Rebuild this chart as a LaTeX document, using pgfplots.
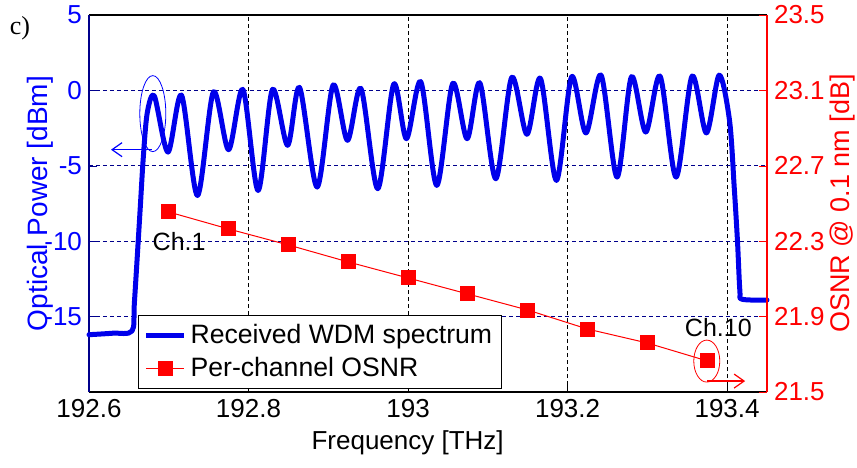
\documentclass[border=0pt]{standalone}
\usepackage{pgfplots}
\pgfplotsset{compat=1.18}
\usepackage{fontspec}
\setmainfont{Liberation Sans}
\newfontfamily\serifc{Liberation Serif}
\usetikzlibrary{arrows.meta}
\definecolor{specblue}{RGB}{0,0,235}
\definecolor{navy}{RGB}{0,0,140}

\pgfplotsset{
  common/.style={
    width=339pt, height=188.5pt, scale only axis,
    xmin=192.6, xmax=193.45,
    xtick={192.6,192.8,193,193.2,193.4},
    scaled x ticks=false,
    /pgf/number format/assume math mode=true,
    tick label style={font=\fontsize{13}{15}\selectfont},
    major tick length=4pt,
    tick align=inside,
    clip=false,
  }
}

\begin{document}
\begin{tikzpicture}
\begin{axis}[common, name=ax,
  ymin=-20, ymax=5, ytick={-15,-10,-5,0,5},
  axis x line*=box, axis y line*=left,
  xtick pos=left,
  xticklabels={192.6,192.8,193,193.2,193.4},
  y axis line style={draw=navy, line width=0.8pt},
  x axis line style={line width=0.8pt},
  ytick style={navy}, yticklabel style={blue},
  xtick style={black},
  grid=major,
  x grid style={black, dash pattern=on 2pt off 1.5pt, line width=0.5pt},
  y grid style={navy, dash pattern=on 2pt off 1.5pt, line width=0.5pt},
  xlabel={Frequency [THz]},
  ylabel={Optical Power [dBm]},
  xlabel style={at={(axis description cs:0.47,-0.135)}, anchor=center, font=\fontsize{13}{15}\selectfont},
  ylabel style={at={(axis description cs:-0.0723,0.5)}, anchor=center, blue, font=\fontsize{14}{16}\selectfont},
]
\addplot[specblue, line width=2.5pt, smooth, tension=0.5, line join=round, line cap=round] coordinates {
(192.600,-16.20) (192.630,-16.10) (192.654,-15.95) (192.657,-14.0) (192.664,-8.0)
(192.668,-4.5) (192.673,-1.5) (192.682,-0.39) (192.699,-4.09) (192.716,-0.32)
(192.736,-6.97) (192.756,-0.10) (192.775,-3.93) (192.793,0.06) (192.812,-6.64)
(192.830,0.06) (192.849,-3.64) (192.864,0.19) (192.886,-6.41) (192.906,0.35)
(192.924,-3.31) (192.941,0.12) (192.962,-6.52) (192.982,0.41) (192.998,-3.20)
(193.016,0.57) (193.036,-6.30) (193.056,0.46) (193.074,-3.20) (193.090,0.50)
(193.110,-5.86) (193.130,0.86) (193.149,-2.91) (193.166,0.79) (193.186,-5.97)
(193.205,0.90) (193.223,-2.82) (193.242,1.01) (193.262,-5.75) (193.280,0.90)
(193.298,-2.76) (193.316,0.94) (193.336,-5.75) (193.356,0.94) (193.374,-2.82)
(193.390,1.01) (193.403,-1.98) (193.409,-6.5) (193.413,-10.0) (193.416,-13.3)
(193.419,-13.85) (193.450,-13.90)
};
% annotations for Ch.1
\draw[blue, line width=0.4pt] (axis cs:192.680,-1.54) ellipse [x radius=6.5pt, y radius=19pt];
\draw[blue, line width=0.6pt, -{Straight Barb[length=5pt,width=7pt]}] (axis cs:192.679,-3.93) -- (axis cs:192.6276,-3.93);
\node[font=\fontsize{12.5}{14}\selectfont] at (axis cs:192.713,-10.0) {Ch.1};
\node[font=\fontsize{12.5}{14}\selectfont] at (axis cs:193.389,-15.74) {Ch.10};
\node[font=\serifc\fontsize{13}{15}\selectfont] at (rel axis cs:-0.1018,0.9655) {c)};
\end{axis}

\begin{axis}[common,
  ymin=21.5, ymax=23.5, ytick={21.5,21.9,22.3,22.7,23.1,23.5},
  axis x line=none, axis y line*=right,
  y axis line style={draw=red, line width=0.8pt},
  ytick style={red},
  yticklabel style={red, /pgf/number format/fixed, /pgf/number format/precision=1, /pgf/number format/fixed zerofill},
  ylabel={OSNR @ 0.1 nm [dB]},
  ylabel style={at={(axis description cs:1.112,0.5)}, anchor=center, red, font=\fontsize{13.5}{16}\selectfont},
  legend style={at={(axis description cs:0.0723,0.204)}, anchor=north west, draw=black, fill=white,
    line width=0.6pt, font=\fontsize{13.3}{15}\selectfont, row sep=1.2pt, inner sep=2.5pt,
    /tikz/every even column/.append style={column sep=1pt}},
  legend cell align=left,
  legend image code/.code={\draw[mark repeat=2,mark phase=2,#1] plot coordinates {(0pt,0pt) (9.5pt,0pt) (19pt,0pt)};},
]
\addlegendimage{specblue, line width=2.5pt}
\addlegendentry{Received WDM spectrum}
\addplot[red, line width=0.5pt, mark=square*, mark size=3.5pt, mark options={solid, fill=red, draw=red}] coordinates {
(192.700,22.455) (192.775,22.365) (192.850,22.280) (192.925,22.190) (193.000,22.105)
(193.075,22.020) (193.150,21.935) (193.225,21.834) (193.300,21.760) (193.375,21.665)
};
\addlegendentry{Per-channel OSNR}
\draw[red, line width=0.4pt] (axis cs:193.3745,21.664) ellipse [x radius=6.5pt, y radius=10.5pt];
\draw[red, line width=0.6pt, -{Straight Barb[length=5pt,width=7pt]}] (axis cs:193.3745,21.558) -- (axis cs:193.4226,21.558);
\end{axis}
\pgfresetboundingbox
\path ([shift={(-44.5pt,-37.5pt)}]ax.south west) rectangle ([shift={(45pt,7.5pt)}]ax.north east);
\end{tikzpicture}
\end{document}
